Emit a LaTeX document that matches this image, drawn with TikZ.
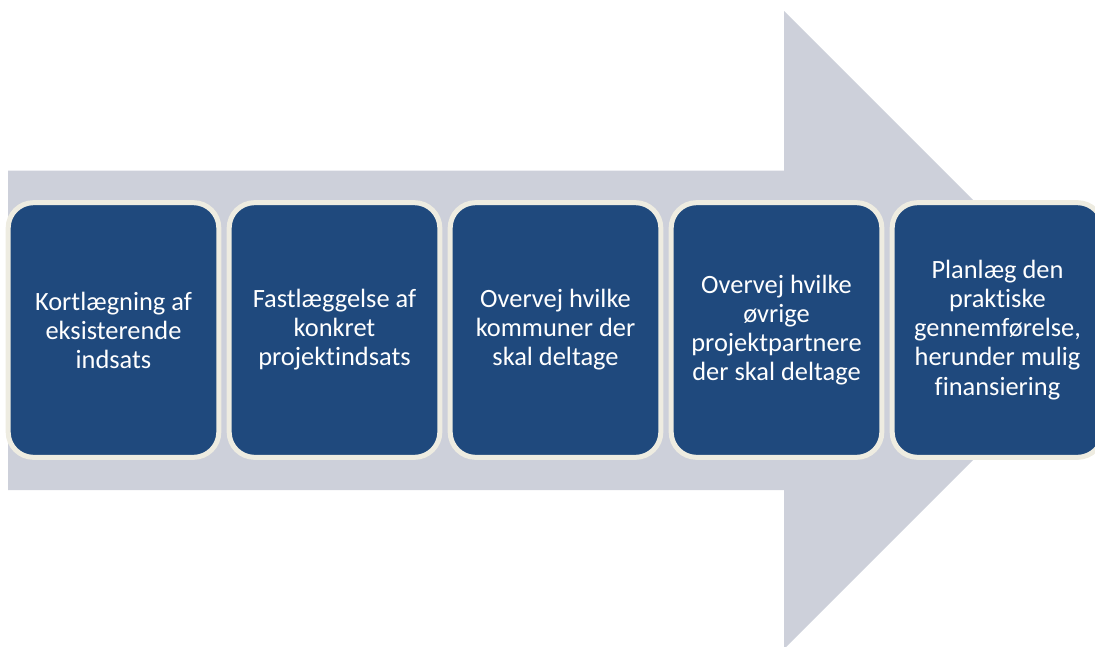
\documentclass[tikz,border=0pt]{standalone}
\usepackage{fontspec}
\setmainfont[Ligatures=NoCommon]{Carlito}
\definecolor{arrowgray}{RGB}{205,208,218}
\definecolor{stepblue}{RGB}{31,73,125}
\definecolor{stepedge}{RGB}{238,236,225}
\begin{document}
\begin{tikzpicture}[x=0.75pt,y=-0.75pt,
    stepbox/.style={fill=stepblue,draw=stepedge,line width=3.75pt,rounded corners=19pt,
      minimum width=158pt,minimum height=191pt,text=white,align=center,
      font=\fontsize{19.8}{21.8}\selectfont,inner sep=0pt}]
  \useasboundingbox (0,0) rectangle (1095,646);
  \clip (0,0) rectangle (1095,646);
  % big arrow behind the steps
  \fill[arrowgray] (8,170.5) -- (784,170.5) -- (784,11) -- (1103,330) -- (784,649)
    -- (784,490) -- (8,490) -- cycle;
  % steps
  \node[stepbox] (kort) at (113.5,330) {Kortlægning af\\eksisterende\\indsats};
  \node[stepbox] (fast) at (334.5,330) {Fastlæggelse af\\konkret\\projektindsats};
  \node[stepbox] (komm) at (555.5,330) {Overvej hvilke\\kommuner der\\skal deltage};
  \node[stepbox] (part) at (776.5,330) {Overvej hvilke\\øvrige\\projektpartnere\\der skal deltage};
  \node[stepbox] (plan) at (997.5,330) {Planlæg den\\praktiske\\gennemførelse,\\herunder mulig\\finansiering};
\end{tikzpicture}
\end{document}
